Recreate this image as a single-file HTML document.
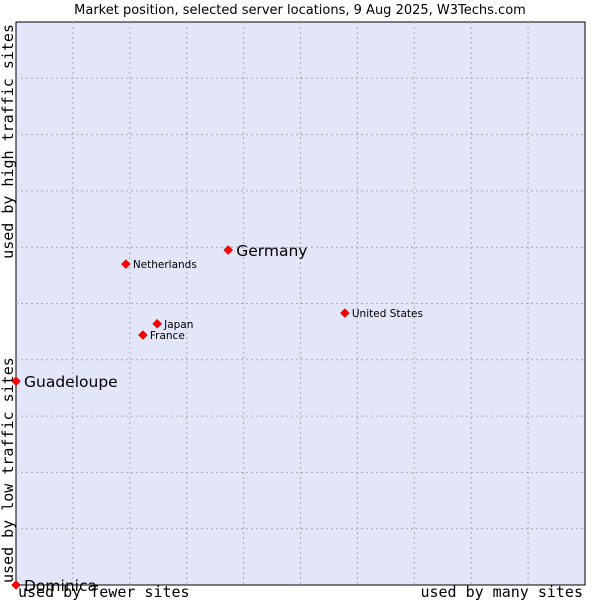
<!DOCTYPE html>
<html><head><meta charset="utf-8"><style>
body{margin:0;background:#fff;width:600px;height:600px;overflow:hidden}
svg{display:block}
</style></head><body>
<svg id="chart" width="600" height="600">
<text x="300" y="14" text-anchor="middle" font-family="DejaVu Sans, sans-serif" font-size="13" fill="#000">Market position, selected server locations, 9 Aug 2025, W3Techs.com</text>
<rect x="16" y="22" width="569" height="563" fill="#e3e5f8" stroke="#000" stroke-width="1"/>
<g id="grid"></g>
<g id="points"></g>
<text x="18" y="597" font-family="DejaVu Sans Mono, Liberation Mono, monospace" font-size="15">used by fewer sites</text>
<text x="583" y="597" text-anchor="end" font-family="DejaVu Sans Mono, Liberation Mono, monospace" font-size="15">used by many sites</text>
<text transform="translate(13,583) rotate(-90)" font-family="DejaVu Sans Mono, Liberation Mono, monospace" font-size="15">used by low traffic sites</text>
<text transform="translate(13,24) rotate(-90)" text-anchor="end" font-family="DejaVu Sans Mono, Liberation Mono, monospace" font-size="15">used by high traffic sites</text>
</svg>
<script>
const names=["Dominica","Guadeloupe","Germany","Netherlands","United States","Japan","France"];
const xs=[0,0,37.3,19.3,57.8,24.8,22.3];
const ys=[0,36.2,59.5,57.0,48.3,46.4,44.4];
const big=[true,true,true,false,false,false,false];
const L=16,T=22,W=569,H=563;
const sx=v=>L+v/100*W, sy=v=>T+H-v/100*H;
const NS="http://www.w3.org/2000/svg";
const grid=document.getElementById('grid');
for(let i=1;i<10;i++){
  const v=document.createElementNS(NS,'line');
  v.setAttribute('x1',sx(i*10));v.setAttribute('x2',sx(i*10));v.setAttribute('y1',T);v.setAttribute('y2',T+H);
  v.setAttribute('stroke','#aaa');v.setAttribute('stroke-dasharray','2,3');
  
  
  grid.appendChild(v);
  const h=document.createElementNS(NS,'line');
  h.setAttribute('y1',sy(i*10));h.setAttribute('y2',sy(i*10));h.setAttribute('x1',L);h.setAttribute('x2',L+W);
  h.setAttribute('stroke','#aaa');h.setAttribute('stroke-dasharray','2,3');
  
  
  grid.appendChild(h);
}
const pts=document.getElementById('points');
names.forEach((n,i)=>{
  const x=sx(xs[i]),y=sy(ys[i]);
  const p=document.createElementNS(NS,'path');
  p.setAttribute('d',`M${x} ${y-4.5}L${x+4.5} ${y}L${x} ${y+4.5}L${x-4.5} ${y}Z`);
  p.setAttribute('fill','#f00');p.setAttribute('stroke','#b00');p.setAttribute('stroke-width','0.5');
  
  
  pts.appendChild(p);
  const t=document.createElementNS(NS,'text');
  t.setAttribute('x',x+(big[i]?8:7));t.setAttribute('y',y+(big[i]?6:4));
  t.setAttribute('font-family','DejaVu Sans, sans-serif');
  t.setAttribute('font-size',big[i]?'15.5':'10.5');
  t.textContent=n;
  
  
  pts.appendChild(t);
});
</script>
</body></html>
